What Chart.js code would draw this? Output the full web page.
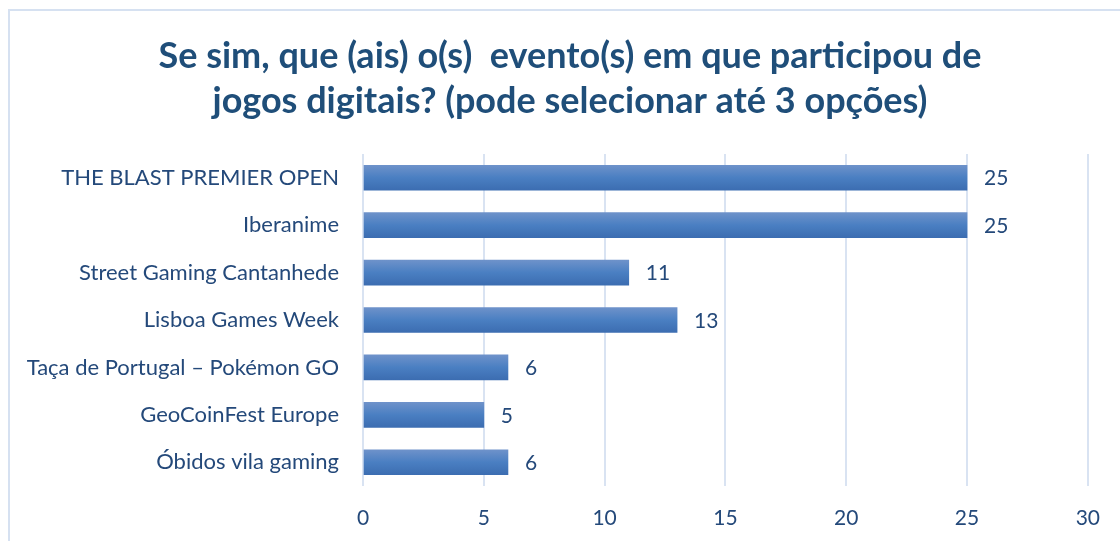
<!DOCTYPE html>
<html>
<head>
<meta charset="utf-8">
<script src="https://cdn.jsdelivr.net/npm/chart.js@4"></script>
<style>
  html, body { margin: 0; padding: 0; background: #fff; }
  body { width: 1120px; height: 541px; position: relative; overflow: hidden; }
  #frame { position: absolute; left: 8px; top: 9px; width: 1200px; height: 700px; border: 2px solid #D6E1F1; }
  #wrap { position: absolute; left: 0; top: 0; width: 1120px; height: 541px; }
</style>
</head>
<body>
<div id="frame"></div>
<div id="wrap"><canvas id="chart"></canvas></div>
<script>
const categories = [
    'THE BLAST PREMIER OPEN',
    'Iberanime',
    'Street Gaming Cantanhede',
    'Lisboa Games Week',
    'Taça de Portugal – Pokémon GO',
    'GeoCoinFest Europe',
    'Óbidos vila gaming'
];
const counts = [25, 25, 11, 13, 6, 5, 6];
const titleLines = [
    'Se sim, que (ais) o(s)  evento(s) em que participou de',
    'jogos digitais? (pode selecionar até 3 opções)'
];
const xTicks = [0, 5, 10, 15, 20, 25, 30];

const FONT = 'Lato, "Open Sans", sans-serif';
const TEXT_COLOR = '#24497A';
const TITLE_COLOR = '#1F4E79';
const GRID_COLOR = '#D9E3F2';
const BAR_THICKNESS = 25;

function barGradient(context) {
    const chart = context.chart;
    if (!chart.chartArea || !chart.scales.y) return '#4A7EC1';
    const yCenter = chart.scales.y.getPixelForValue(context.dataIndex);
    const top = yCenter - BAR_THICKNESS / 2;
    const gradient = chart.ctx.createLinearGradient(0, top, 0, top + BAR_THICKNESS);
    gradient.addColorStop(0, '#6E92CA');
    gradient.addColorStop(0.5, '#4A7FC2');
    gradient.addColorStop(1, '#3C6DB1');
    return gradient;
}

// title sits off-centre relative to the canvas, so draw it by hand
const chartTitle = {
    id: 'chartTitle',
    afterDraw(chart) {
        const ctx = chart.ctx;
        ctx.save();
        ctx.font = 'bold 36px ' + FONT;
        ctx.fillStyle = TITLE_COLOR;
        ctx.textAlign = 'center';
        ctx.textBaseline = 'middle';
        titleLines.forEach((line, i) => {
            ctx.fillText(line, chart.width / 2 + 10, 56 + i * 45);
        });
        ctx.restore();
    }
};

const valueLabels = {
    id: 'valueLabels',
    afterDatasetsDraw(chart) {
        const ctx = chart.ctx;
        const meta = chart.getDatasetMeta(0);
        ctx.save();
        ctx.font = '21px ' + FONT;
        ctx.fillStyle = TEXT_COLOR;
        ctx.textBaseline = 'middle';
        ctx.textAlign = 'left';
        meta.data.forEach((bar, index) => {
            ctx.fillText(String(counts[index]), bar.x + 17, bar.y + 1);
        });
        ctx.restore();
    }
};

new Chart(document.getElementById('chart'), {
    type: 'bar',
    data: {
        labels: categories,
        datasets: [{
            data: counts,
            backgroundColor: barGradient,
            borderWidth: 0,
            barThickness: BAR_THICKNESS
        }]
    },
    options: {
        indexAxis: 'y',
        responsive: true,
        maintainAspectRatio: false,
        animation: false,
        layout: { padding: { left: 0, right: 29, top: 154, bottom: 0 } },
        plugins: {
            legend: { display: false },
            tooltip: { enabled: false },
            title: { display: false }
        },
        scales: {
            x: {
                min: 0,
                max: 30,
                afterBuildTicks(scale) {
                    scale.ticks = xTicks.map(v => ({ value: v }));
                },
                border: { display: false },
                grid: { color: GRID_COLOR, lineWidth: 2, drawTicks: false },
                ticks: { color: TEXT_COLOR, font: { family: FONT, size: 21 }, padding: 20 },
                afterFit(scale) { scale.height = 55; }
            },
            y: {
                border: { display: false },
                grid: { display: false, drawTicks: false },
                ticks: { color: TEXT_COLOR, font: { family: FONT, size: 22 }, padding: 24 },
                afterFit(scale) { scale.width = 363; }
            }
        }
    },
    plugins: [valueLabels, chartTitle]
});
</script>
</body>
</html>
